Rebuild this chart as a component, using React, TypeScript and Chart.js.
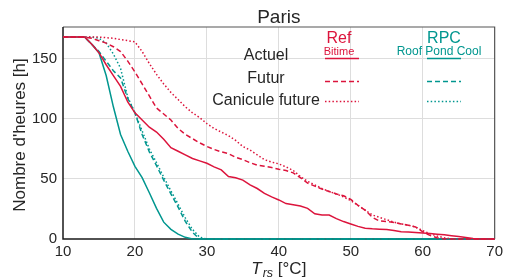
import { useEffect, useRef } from "react";
import { Chart, registerables } from "chart.js";
Chart.register(...registerables);

// Temperature (°C)
const temps = [10, 11, 12, 13, 14, 15, 16, 17, 18, 19, 20, 21, 22, 23, 24, 25, 26, 27, 28, 29, 30, 31, 32, 33, 34, 35, 36, 37, 38, 39, 40, 41, 42, 43, 44, 45, 46, 47, 48, 49, 50, 51, 52, 53, 54, 55, 56, 57, 58, 59, 60, 61, 62, 63, 64, 65, 66, 67, 68, 69, 70];

// Ref (Bitime)
const refActuel = [168, 168, 168, 168, 162, 155, 145, 136, 127, 114, 105, 99, 93, 89, 83, 76, 73, 70, 67, 65, 63, 60, 57.5, 52, 51, 49, 45, 42, 38, 35, 32.5, 29.5, 28.5, 27.5, 25.5, 21, 20, 20, 17, 14.5, 12.5, 10.5, 9, 8.5, 8.2, 8, 7, 6, 5.8, 5.4, 5, 4.5, 4, 3.5, 2.8, 2, 1.2, 0.5, 0, 0, 0];
const refFutur = [168, 168, 168, 168, 167, 165, 163, 160, 156, 148, 139, 129, 119, 109, 104, 99, 92, 87, 83.5, 80, 77, 74.5, 72.5, 71, 68, 66, 63.5, 61.5, 60.5, 59.5, 58, 57, 55, 51, 46.5, 44, 41.5, 39.5, 37.5, 36, 33, 28, 24, 18, 15, 14.5, 13.8, 12.5, 11.5, 10, 6, 3, 1, 0, 0, 0, 0, 0, 0, 0, 0];
const refCanicule = [168, 168, 168, 168, 168, 168, 167.5, 167, 166, 165, 164, 156, 146, 137, 129, 122, 116, 110, 105, 101, 96, 92, 89, 86, 82, 77, 74, 70, 66, 64, 62.5, 60, 57, 52, 48, 45, 42, 39.5, 37.5, 35, 32, 28, 24, 20, 18, 16, 14, 12.5, 11.5, 10, 7, 4.5, 2.5, 1, 0, 0, 0, 0, 0, 0, 0];

// RPC (Roof Pond Cool)
const rpcActuel = [168, 168, 168, 168, 162, 155, 136, 110, 87, 73, 60.5, 51, 38.5, 25.5, 14, 8, 4, 1.4, 0, 0, 0, 0, 0, 0, 0, 0, 0, 0, 0, 0, 0, 0, 0, 0, 0, 0, 0, 0, 0, 0, 0, 0, 0, 0, 0, 0, 0, 0, 0, 0, 0, 0, 0, 0, 0, 0, 0, 0, 0, 0, 0];
const rpcFutur = [168, 168, 168, 168, 162, 156, 148, 140, 134, 117, 105, 87, 72.5, 61, 49, 37.5, 26.5, 14.7, 5.5, 0, 0, 0, 0, 0, 0, 0, 0, 0, 0, 0, 0, 0, 0, 0, 0, 0, 0, 0, 0, 0, 0, 0, 0, 0, 0, 0, 0, 0, 0, 0, 0, 0, 0, 0, 0, 0, 0, 0, 0, 0, 0];
const rpcCanicule = [168, 168, 168, 168, 168, 167, 163, 154, 142, 118, 105, 90, 75, 63.5, 51.5, 40, 29, 17.5, 8, 1.5, 0, 0, 0, 0, 0, 0, 0, 0, 0, 0, 0, 0, 0, 0, 0, 0, 0, 0, 0, 0, 0, 0, 0, 0, 0, 0, 0, 0, 0, 0, 0, 0, 0, 0, 0, 0, 0, 0, 0, 0, 0];

const xTicks = [10, 20, 30, 40, 50, 60, 70];
const yTicks = [0, 50, 100, 150];
const rowLabels = ["Actuel", "Futur", "Canicule future"];

const RED = "#dc143c";
const TEAL = "#00968f";
const TEXT = "#262626";
const FONT = "'Liberation Sans', Arial, Helvetica, sans-serif";
const DASH = [5, 3];
const DOT = [1.5, 2.2];

const decorPlugin = {
  id: "decor",
  beforeDatasetsDraw(chart: any) {
    const { ctx, chartArea: a } = chart;
    ctx.save();
    ctx.lineWidth = 1.2;
    ctx.strokeStyle = "#555555";
    ctx.beginPath();
    ctx.moveTo(a.left, a.top);
    ctx.lineTo(a.right, a.top);
    ctx.lineTo(a.right, a.bottom);
    ctx.stroke();
    ctx.lineWidth = 1.5;
    ctx.strokeStyle = "#1a1a1a";
    ctx.beginPath();
    ctx.moveTo(a.left, a.top);
    ctx.lineTo(a.left, a.bottom);
    ctx.lineTo(a.right, a.bottom);
    ctx.stroke();
    ctx.restore();
  },
  afterDraw(chart: any) {
    const { ctx, chartArea: a } = chart;
    ctx.save();
    // Title
    ctx.fillStyle = TEXT;
    ctx.textAlign = "center";
    ctx.textBaseline = "alphabetic";
    ctx.font = `19px ${FONT}`;
    ctx.fillText("Paris", (a.left + a.right) / 2, 23);

    // Y axis title
    ctx.save();
    ctx.translate(20, (a.top + a.bottom) / 2 + 2);
    ctx.rotate(-Math.PI / 2);
    ctx.textBaseline = "middle";
    ctx.font = `17px ${FONT}`;
    ctx.fillText("Nombre d'heures [h]", 0, 0);
    ctx.restore();

    // X axis title with subscript
    const big = `italic 17px ${FONT}`;
    const small = `italic 12.5px ${FONT}`;
    const reg = `17px ${FONT}`;
    ctx.font = big;
    const wT = ctx.measureText("T").width;
    ctx.font = small;
    const wRs = ctx.measureText("rs").width;
    ctx.font = reg;
    const wRest = ctx.measureText(" [°C]").width;
    let sx = (a.left + a.right) / 2 - (wT + 1 + wRs + wRest) / 2;
    const by = 274;
    ctx.textAlign = "left";
    ctx.font = big;
    ctx.fillText("T", sx, by);
    sx += wT + 1;
    ctx.font = small;
    ctx.fillText("rs", sx, by + 3);
    sx += wRs;
    ctx.font = reg;
    ctx.fillText(" [°C]", sx, by);

    // Legend table
    ctx.textAlign = "center";
    ctx.fillStyle = RED;
    ctx.font = `16px ${FONT}`;
    ctx.fillText("Ref", 339, 42.5);
    ctx.font = `11px ${FONT}`;
    ctx.fillText("Bitime", 339, 55);
    ctx.fillStyle = TEAL;
    ctx.font = `16px ${FONT}`;
    ctx.fillText("RPC", 444, 42.5);
    ctx.font = `12px ${FONT}`;
    ctx.fillText("Roof Pond Cool", 439, 55);

    ctx.fillStyle = TEXT;
    ctx.font = `16px ${FONT}`;
    const rowBase = [60, 83, 105];
    rowLabels.forEach((t, i) => ctx.fillText(t, 266, rowBase[i]));

    const rowY = [58.5, 81.5, 101.5];
    const dashes = [[], DASH, DOT];
    ctx.lineWidth = 1.5;
    rowY.forEach((y, i) => {
      ctx.setLineDash(dashes[i]);
      ctx.strokeStyle = RED;
      ctx.beginPath();
      ctx.moveTo(325, y);
      ctx.lineTo(359, y);
      ctx.stroke();
      ctx.strokeStyle = TEAL;
      ctx.beginPath();
      ctx.moveTo(427, y);
      ctx.lineTo(461, y);
      ctx.stroke();
    });
    ctx.restore();
  },
};

export default function App() {
  const ref = useRef<HTMLCanvasElement>(null);
  useEffect(() => {
    const series = [
      { label: "Ref Actuel", data: refActuel, color: RED, dash: [] as number[] },
      { label: "Ref Futur", data: refFutur, color: RED, dash: DASH },
      { label: "Ref Canicule future", data: refCanicule, color: RED, dash: DOT },
      { label: "RPC Actuel", data: rpcActuel, color: TEAL, dash: [] as number[] },
      { label: "RPC Futur", data: rpcFutur, color: TEAL, dash: DASH },
      { label: "RPC Canicule future", data: rpcCanicule, color: TEAL, dash: DOT },
    ];
    const chart = new Chart(ref.current!, {
      type: "line",
      data: {
        datasets: series.map((s) => ({
          label: s.label,
          data: temps.map((t, i) => ({ x: t, y: s.data[i] })),
          borderColor: s.color,
          borderWidth: 1.5,
          borderDash: s.dash,
          pointRadius: 0,
          tension: 0,
          fill: false,
          clip: false as any,
        })),
      },
      options: {
        responsive: false,
        animation: false,
        layout: { padding: { top: 27, right: 8, left: 0, bottom: 0 } },
        plugins: {
          legend: { display: false },
          tooltip: { enabled: false },
          title: { display: false },
        },
        scales: {
          x: {
            type: "linear",
            min: 10,
            max: 70,
            afterBuildTicks: (s: any) => {
              s.ticks = xTicks.map((v) => ({ value: v }));
            },
            afterFit: (s: any) => {
              s.height = 41;
            },
            grid: {
              drawTicks: false,
              color: (c: any) => (c.tick && (c.tick.value === 10 || c.tick.value === 70) ? "rgba(0,0,0,0)" : "#dddddd"),
              lineWidth: 1,
            },
            border: { display: false },
            ticks: {
              padding: 4,
              autoSkip: false,
              maxRotation: 0,
              color: TEXT,
              font: { family: FONT, size: 15 },
            },
          },
          y: {
            type: "linear",
            min: 0,
            max: 176.4,
            afterBuildTicks: (s: any) => {
              s.ticks = yTicks.map((v) => ({ value: v }));
            },
            afterFit: (s: any) => {
              s.width = 63;
            },
            grid: {
              drawTicks: false,
              color: (c: any) => (c.tick && c.tick.value === 0 ? "rgba(0,0,0,0)" : "#dddddd"),
              lineWidth: 1,
            },
            border: { display: false },
            ticks: {
              padding: 6,
              color: TEXT,
              font: { family: FONT, size: 15 },
            },
          },
        },
      },
      plugins: [decorPlugin],
    });
    return () => chart.destroy();
  }, []);
  return (
    <div style={{ position: "fixed", left: 0, top: 0, width: 507, height: 280, background: "#fff" }}>
      <canvas ref={ref} width={507} height={280} style={{ width: 507, height: 280, display: "block" }} />
    </div>
  );
}
